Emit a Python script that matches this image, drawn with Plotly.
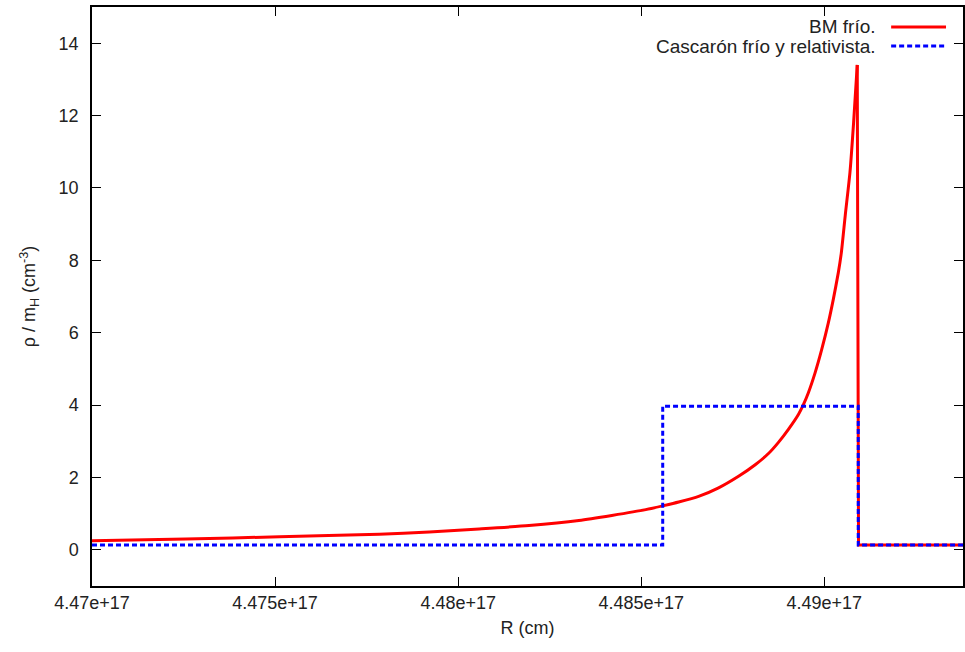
import plotly.graph_objects as go

# Blandford-McKee cold shell density profile (rho / m_H in cm^-3) vs radius:
# rising part up to the shock front
R_bm = [4.470000e17, 4.472561e17, 4.475123e17, 4.477847e17, 4.479210e17, 4.480572e17,
        4.481935e17, 4.483297e17, 4.484196e17, 4.485123e17, 4.485613e17, 4.486022e17,
        4.486567e17, 4.487112e17, 4.487657e17, 4.488112e17, 4.488474e17, 4.488747e17,
        4.489019e17, 4.489292e17, 4.489428e17, 4.489564e17, 4.489747e17, 4.489927e17,
        4.490109e17, 4.490245e17, 4.490382e17, 4.490463e17, 4.490572e17, 4.490700e17,
        4.490799e17, 4.490899e17]
rho_bm = [0.25, 0.30, 0.36, 0.43, 0.49, 0.575,
          0.67, 0.81, 0.95, 1.11, 1.22, 1.32,
          1.475, 1.71, 2.03, 2.35, 2.66, 2.97,
          3.33, 3.74, 4.01, 4.34, 4.89, 5.53,
          6.27, 6.92, 7.66, 8.20, 9.25, 10.43,
          11.80, 13.40]
# ambient medium ahead of the shock
R_ext = [4.490899e17, 4.490934e17, 4.494000e17]
rho_ext = [13.40, 0.13, 0.13]

# Cold relativistic thin shell: step profile
R_shell = [4.470000e17, 4.485586e17, 4.490926e17, 4.494000e17]
rho_shell = [0.13, 3.97, 0.13, 0.13]

x_tickvals = [4.47e17, 4.475e17, 4.48e17, 4.485e17, 4.49e17]
x_ticktext = ["4.47e+17", "4.475e+17", "4.48e+17", "4.485e+17", "4.49e+17"]
y_tickvals = [0, 2, 4, 6, 8, 10, 12, 14]

names = ["BM frío.", "Cascarón frío y relativista."]
colors = ["#ff0000", "#0000ff"]
DASH = "5px,3px"

FONT = "Liberation Sans, Arial, Helvetica, sans-serif"
TXT = "#222222"

fig = go.Figure()
fig.add_trace(go.Scatter(x=R_bm, y=rho_bm, mode="lines", name=names[0],
                         line=dict(color=colors[0], width=3, shape="spline", smoothing=0.6)))
fig.add_trace(go.Scatter(x=R_ext, y=rho_ext, mode="lines", name=names[0],
                         line=dict(color=colors[0], width=3)))
fig.add_trace(go.Scatter(x=R_shell, y=rho_shell, mode="lines", name=names[1],
                         line=dict(color=colors[1], width=3, dash=DASH, shape="hv")))

axis_common = dict(showgrid=False, zeroline=False, showline=True, linecolor="black",
                   linewidth=1.5, mirror="ticks", ticks="inside", ticklen=9,
                   tickcolor="black", tickwidth=1,
                   tickfont=dict(family=FONT, size=18, color=TXT))

fig.update_xaxes(range=[4.47e17, 4.493787e17], tickvals=x_tickvals, ticktext=x_ticktext,
                 title=dict(text="R (cm)", font=dict(family=FONT, size=18, color=TXT),
                            standoff=9),
                 **axis_common)
fig.update_yaxes(range=[-1, 15], tickvals=y_tickvals, ticklabelstandoff=8,
                 title=dict(text="ρ / m<sub>H</sub> (cm<sup>-3</sup>)",
                            font=dict(family=FONT, size=18, color=TXT), standoff=18),
                 **axis_common)

# gnuplot-style key: text right-aligned, line sample on the right
key_y = [0.9655, 0.9326]
for name, col, ky, dash in zip(names, colors, key_y, ["solid", DASH]):
    fig.add_annotation(x=0.9026, y=ky, xref="paper", yref="paper", text=name,
                       showarrow=False, xanchor="right", yanchor="middle",
                       font=dict(family=FONT, size=19, color=TXT))
    fig.add_shape(type="line", xref="paper", yref="paper", x0=0.9175, x1=0.9805,
                  y0=ky, y1=ky, line=dict(color=col, width=3, dash=dash))

fig.update_layout(width=965, height=652, showlegend=False,
                  plot_bgcolor="white", paper_bgcolor="white",
                  margin=dict(l=92, r=0, t=7, b=66),
                  font=dict(family=FONT, size=18, color=TXT))

fig.write_html("out.html")
